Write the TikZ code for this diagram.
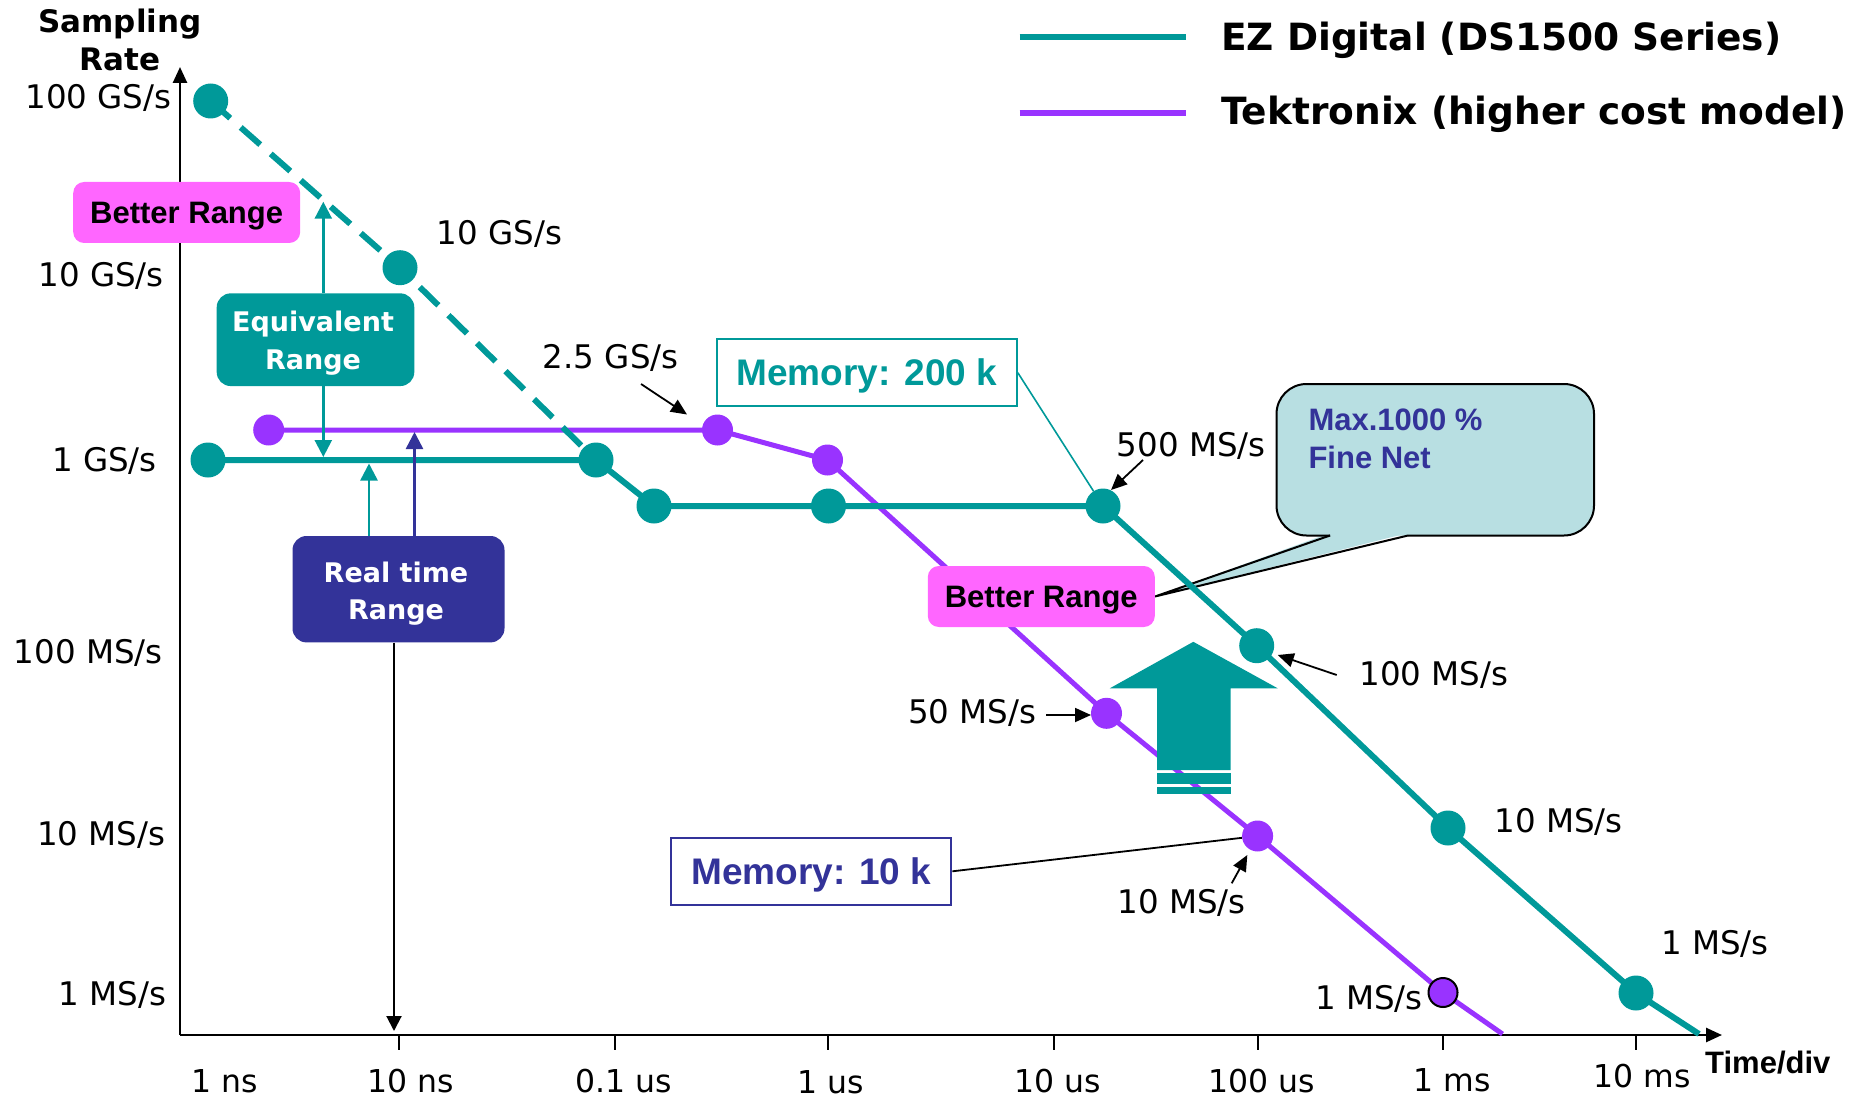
\documentclass[tikz,border=0pt]{standalone}
\usepackage{fontspec}
\setmainfont{DejaVu Sans}
\newfontfamily\vfont{DejaVu Sans}
\newfontfamily\afont{Liberation Sans}
\usetikzlibrary{arrows.meta}
\definecolor{ezteal}{RGB}{0,153,153}
\definecolor{tekpurple}{RGB}{153,51,255}
\definecolor{pinkfill}{RGB}{255,102,255}
\definecolor{navy}{RGB}{51,51,153}
\definecolor{calloutfill}{RGB}{184,223,226}
\tikzset{
  val/.style={font=\vfont\fontsize{32.5}{39}\selectfont, inner sep=0pt},
  xval/.style={font=\vfont\fontsize{31.5}{38}\selectfont, inner sep=0pt, anchor=base},
  ezline/.style={draw=ezteal, line width=6pt, line join=round},
  tekline/.style={draw=tekpurple, line width=5pt, line join=round},
  ezdot/.style={circle, fill=ezteal, minimum size=35pt, inner sep=0pt},
  tekdot/.style={circle, fill=tekpurple, minimum size=31pt, inner sep=0pt},
  pinkbox/.style={fill=pinkfill, rounded corners=11pt, minimum width=227pt, minimum height=61pt, inner sep=0pt, text height=22.2pt, text depth=0pt, font=\afont\bfseries\fontsize{31}{36}\selectfont},
  membox/.style={draw, line width=2pt, fill=white, inner sep=0pt, text height=26.5pt, text depth=0pt, font=\afont\bfseries\fontsize{37}{44}\selectfont},
  rangebox/.style={rounded corners=14pt, inner sep=0pt},
  rangetext/.style={inner sep=0pt, text=white, align=center, anchor=north, font=\vfont\bfseries\fontsize{27}{37.6}\selectfont},
  axisline/.style={line width=2.6pt, -{Triangle[length=16pt,width=14pt]}},
  lblarrow/.style={black, line width=1.8pt, -{Triangle[length=16pt,width=14pt]}},
  rangearrow/.style={line width=2.5pt, -{Triangle[length=17pt,width=17pt]}},
  legendtext/.style={font=\vfont\bfseries\fontsize{37.5}{44}\selectfont, inner sep=0pt, anchor=base west}
}
\begin{document}
\begin{tikzpicture}[x=1pt,y=-1pt]
\useasboundingbox (0,0) rectangle (1867,1099);

% data points
\coordinate (t1) at (210.7,101);
\coordinate (t2) at (400,267.7);
\coordinate (t3) at (208,460);
\coordinate (t4) at (596,460);
\coordinate (t5) at (654,506);
\coordinate (t6) at (828.5,506);
\coordinate (t7) at (1103,506);
\coordinate (t8) at (1256.7,645.7);
\coordinate (t9) at (1448,828);
\coordinate (t10) at (1636,993);
\coordinate (tend) at (1699,1034);
\coordinate (p1) at (268.7,430);
\coordinate (p2) at (717.5,430);
\coordinate (p3) at (827.5,460);
\coordinate (p4) at (1106.5,713.3);
\coordinate (p5) at (1257.6,836);
\coordinate (p6) at (1443,992.5);
\coordinate (pend) at (1502.5,1034);

% axes
\coordinate (O) at (180,1035);
\coordinate (ytop) at (180,67);
\coordinate (xend) at (1722,1035);
\draw[axisline] (O) -- (ytop);
\draw[axisline] (O) -- (xend);
\foreach \x in {399,614.5,827.7,1054,1257.6,1443,1635.5}
  \draw[line width=2pt] (\x,1035) -- (\x,1050);

% axis titles
\node[font=\vfont\bfseries\fontsize{31}{37.3}\selectfont, inner sep=0pt, align=center, anchor=north] (ytitle) at (120,9.1) {Sampling\\Rate};
\node[font=\afont\bfseries\fontsize{31}{36}\selectfont, inner sep=0pt, anchor=base west] (xtitle) at (1705,1073) {Time/div};

% y labels
\node[val, anchor=base east] (y1) at (171.7,108.3) {100 GS/s};
\node[val, anchor=base east] (y2) at (164,286) {10 GS/s};
\node[val, anchor=base east] (y3) at (157,471) {1 GS/s};
\node[val, anchor=base east] (y4) at (163,663.5) {100 MS/s};
\node[val, anchor=base east] (y5) at (165.5,845) {10 MS/s};
\node[val, anchor=base east] (y6) at (166.7,1005.5) {1 MS/s};

% x labels
\node[xval] (x1) at (225,1092) {1 ns};
\node[xval] (x2) at (411,1092) {10 ns};
\node[xval] (x3) at (624,1092) {0.1 us};
\node[xval] (x4) at (831,1093) {1 us};
\node[xval] (x5) at (1058,1092) {10 us};
\node[xval] (x6) at (1262,1092) {100 us};
\node[xval] (x7) at (1452,1091) {1 ms};
\node[xval] (x8) at (1642,1087) {10 ms};

% legend
\draw[draw=ezteal, line width=6pt] (1019.5,37.3) -- (1185.5,37.3);
\draw[draw=tekpurple, line width=6pt] (1019.5,112.7) -- (1185.5,112.7);
\node[legendtext] (leg1) at (1221,50.7) {EZ Digital (DS1500 Series)};
\node[legendtext] (leg2) at (1221,125) {Tektronix (higher cost model)};

% callout
\coordinate (brtip) at (1155,596.5);
\fill[calloutfill, rounded corners=30pt] (1276.5,384) rectangle (1594,535.5);
\fill[calloutfill] (1330,533) -- (brtip) -- (1408,533) -- cycle;
\draw[line width=2pt, line join=miter] (1330,535.5) -- (brtip) -- (1408,535.5);
\draw[line width=2pt, rounded corners=30pt] (1408,535.5) -- (1594,535.5) -- (1594,384) -- (1276.5,384) -- (1276.5,535.5) -- (1330,535.5);
\node[font=\afont\bfseries\fontsize{31}{37.6}\selectfont, text=navy, inner sep=0pt, align=left, anchor=north west] (note) at (1308.3,409.1) {Max.1000 \%\\Fine Net};

% series lines
\draw[tekline] (p1) -- (p2) -- (p3) -- (p4) -- (p5) -- (p6) -- (pend);
\draw[ezline, dash pattern=on 26pt off 14pt] (t1) -- (t2) -- (t4);
\draw[ezline] (t3) -- (t4) -- (t5) -- (t6) -- (t7) -- (t8) -- (t9) -- (t10) -- (tend);

% pink box over purple line, touching the callout tip
\node[pinkbox, anchor=east] (br2) at (brtip) {Better Range};

% big arrow
\fill[ezteal] (1193.3,641.8) -- (1277.7,688.3) -- (1230.5,688.3) -- (1230.5,770) -- (1157,770) -- (1157,688.3) -- (1109.8,688.3) -- cycle;
\fill[ezteal] (1157,773.3) rectangle (1230.5,784.3);
\fill[ezteal] (1157,787) rectangle (1230.5,794);

% dots
\foreach \n in {t1,t2,t3,t4,t5,t6,t7,t8,t9,t10}
  \node[ezdot] (d\n) at (\n) {};
\foreach \n in {p1,p2,p3,p4,p5}
  \node[tekdot] (d\n) at (\n) {};
\node[tekdot, draw=black, line width=2pt, minimum size=29pt] (dp6) at (p6) {};

% boxes
\node[pinkbox] (br1) at (186.7,212.5) {Better Range};
\node[rangebox, fill=ezteal, minimum width=197.6pt, minimum height=92.7pt] (eq) at (315.5,339.7) {};
\node[rangetext] (eqtext) at (313,311.2) {Equivalent\\Range};
\node[rangebox, fill=navy, minimum width=212pt, minimum height=106.4pt] (rt) at (398.5,589.2) {};
\node[rangetext] (rttext) at (396,561.3) {Real time\\Range};
\node[membox, draw=ezteal, text=ezteal, minimum width=300pt, minimum height=66.7pt] (m200) at (866.8,372.7) {Memory: 200 k};
\node[membox, draw=navy, text=navy, minimum width=280pt, minimum height=67pt] (m10) at (811.4,871.3) {Memory: 10 k};

% range arrows
\coordinate (eqtop) at (323.3,201.7);
\coordinate (eqbot) at (323.3,457);
\coordinate (rtez) at (369,463.5);
\coordinate (rttek) at (414.5,432);
\coordinate (rtaxis) at (394,1031);
\draw[rangearrow, ezteal] ([xshift=7.8pt]eq.north) -- (eqtop);
\draw[rangearrow, ezteal] ([xshift=7.8pt]eq.south) -- (eqbot);
\draw[rangearrow, ezteal] ([xshift=-29.5pt]rt.north) -- (rtez);
\draw[rangearrow, navy] ([xshift=16pt]rt.north) -- (rttek);
\draw[line width=2pt, -{Triangle[length=15pt,width=15pt]}] ([xshift=-4.5pt]rt.south) -- (rtaxis);

% memory connectors
\draw[ezteal, line width=1.6pt] (m200.east) -- (dt7);
\draw[black, line width=1.8pt] (m10.east) -- (dp5);

% value labels
\node[val, anchor=base west] (l10g) at (436.7,245) {10 GS/s};
\node[val, anchor=base] (l25g) at (610.8,368) {2.5 GS/s};
\node[val, anchor=base east] (l500m) at (1266,456) {500 MS/s};
\node[val, anchor=base west] (l100m) at (1359.3,685) {100 MS/s};
\node[val, anchor=base east] (l50m) at (1036.6,723.3) {50 MS/s};
\node[val, anchor=base] (l10mp) at (1181.5,913.3) {10 MS/s};
\node[val, anchor=base west] (l10mt) at (1494.3,832.6) {10 MS/s};
\node[val, anchor=base west] (l1mt) at (1661,954) {1 MS/s};
\node[val, anchor=base east] (l1mp) at (1423,1009) {1 MS/s};

% label arrows
\coordinate (a25s) at (641,384);   \coordinate (a25e) at (687,414.5);
\coordinate (a500s) at (1143,460); \coordinate (a500e) at (1111,490);
\coordinate (a100s) at (1336.7,675); \coordinate (a100e) at (1277.7,655);
\coordinate (a50s) at (1046,715);  \coordinate (a50e) at (1091,715);
\coordinate (a10s) at (1231.7,883.3); \coordinate (a10e) at (1247.3,855);
\draw[lblarrow] (a25s) -- (a25e);
\draw[lblarrow] (a500s) -- (a500e);
\draw[lblarrow] (a100s) -- (a100e);
\draw[lblarrow] (a50s) -- (a50e);
\draw[lblarrow] (a10s) -- (a10e);
\end{tikzpicture}
\end{document}
